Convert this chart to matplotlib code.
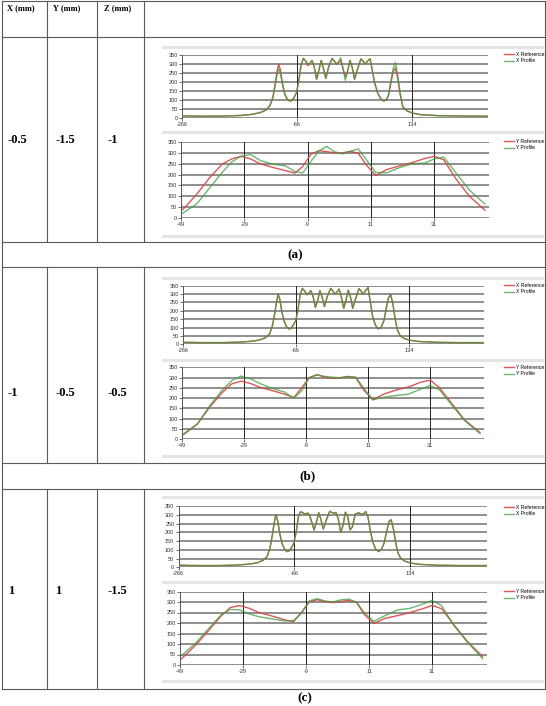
import matplotlib
matplotlib.use("Agg")
import matplotlib.pyplot as plt

W, H = 546, 706

# table contents
headers = ["X (mm)", "Y (mm)", "Z (mm)"]
x_mm = ["-0.5", "-1", "1"]
y_mm = ["-1.5", "-0.5", "1"]
z_mm = ["-1", "-0.5", "-1.5"]
captions = ["(a)", "(b)", "(c)"]

# X profile panel (sample positions along x)
xpos = [-266, -230, -195, -165, -145, -130, -120, -113, -108, -104,
        -101, -98, -95, -91, -87, -83, -79, -75, -71, -67,
        -63, -59, -55, -51, -47, -43, -40, -36, -32, -28,
        -24, -20, -16, -11, -5, -1, 3, 6, 10, 14,
        18, 22, 26, 30, 34, 39, 45, 49, 53, 57,
        61, 65, 69, 74, 79, 84, 89, 93, 97, 101,
        105, 109, 113, 118, 125, 134, 150, 180, 220, 266]

xref_a = [12, 10, 11, 14, 20, 30, 44, 70, 115, 190,
          255, 300, 268, 185, 130, 105, 94, 97, 115, 140,
          205, 295, 330, 315, 290, 305, 320, 282, 215, 265,
          320, 275, 220, 285, 330, 315, 300, 308, 320, 275,
          228, 262, 320, 280, 215, 270, 326, 315, 300, 318,
          328, 260, 195, 140, 110, 95, 98, 125, 190, 255,
          278, 220, 135, 60, 40, 28, 18, 13, 11, 10]
xpro_a = [12, 10, 11, 14, 20, 30, 44, 70, 112, 180,
          235, 275, 248, 180, 130, 105, 94, 97, 115, 140,
          205, 295, 332, 318, 300, 307, 320, 282, 215, 265,
          320, 275, 220, 285, 332, 315, 300, 312, 335, 270,
          210, 262, 320, 280, 215, 272, 330, 315, 300, 318,
          330, 262, 195, 140, 110, 95, 98, 130, 205, 275,
          310, 240, 145, 62, 40, 28, 18, 13, 11, 10]

xref_b = [12, 10, 10, 13, 18, 26, 40, 62, 110, 180,
          245, 298, 270, 190, 135, 105, 92, 95, 115, 140,
          200, 295, 333, 318, 296, 308, 320, 285, 220, 262,
          320, 280, 225, 285, 333, 318, 300, 312, 330, 280,
          215, 262, 322, 282, 215, 272, 333, 316, 300, 322,
          338, 255, 170, 115, 92, 100, 140, 210, 275, 296,
          240, 150, 85, 50, 35, 25, 17, 12, 10, 10]
xpro_b = [12, 10, 10, 13, 18, 26, 40, 62, 110, 182,
          248, 300, 272, 190, 135, 105, 92, 95, 115, 140,
          200, 296, 335, 318, 298, 308, 322, 285, 220, 262,
          322, 280, 225, 285, 335, 318, 300, 312, 331, 280,
          215, 262, 324, 282, 215, 272, 333, 316, 300, 322,
          340, 255, 170, 115, 92, 100, 140, 212, 278, 298,
          240, 150, 85, 50, 35, 25, 17, 12, 10, 10]

xref_c = [12, 10, 10, 13, 18, 26, 40, 62, 112, 185,
          250, 303, 270, 190, 135, 105, 90, 94, 112, 138,
          200, 290, 318, 312, 305, 310, 300, 260, 214, 258,
          313, 272, 220, 270, 320, 314, 310, 313, 275, 200,
          240, 315, 295, 215, 230, 305, 312, 305, 305, 319,
          290, 210, 150, 105, 90, 100, 140, 200, 260, 272,
          220, 140, 80, 50, 35, 25, 17, 12, 10, 10]
xpro_c = [12, 10, 10, 13, 18, 26, 40, 62, 112, 185,
          250, 303, 270, 190, 135, 105, 90, 94, 112, 138,
          200, 292, 320, 312, 305, 312, 302, 260, 214, 258,
          315, 272, 220, 270, 322, 314, 310, 315, 275, 200,
          240, 317, 295, 215, 230, 305, 314, 305, 305, 321,
          290, 210, 150, 105, 90, 100, 140, 200, 262, 275,
          220, 140, 80, 50, 35, 25, 17, 12, 10, 10]

# Y profile panel
ypos = [-48.5, -44, -40, -36, -33, -30, -27, -24, -20, -16,
        -13, -10.5, -8, -5.5, -3, -0.5, 2, 4.5, 7, 9.5,
        12.5, 16, 20, 24, 28, 31, 34, 38, 42, 47]

yref_a = [38, 110, 185, 248, 272, 284, 272, 250, 233, 218,
          207, 238, 293, 310, 306, 300, 300, 307, 298, 245,
          196, 223, 240, 255, 274, 284, 268, 177, 102, 36]
ypro_a = [22, 65, 138, 210, 258, 285, 292, 265, 248, 240,
          214, 208, 260, 308, 330, 305, 295, 307, 318, 270,
          210, 208, 232, 250, 253, 272, 280, 205, 130, 64]

yref_b = [26, 75, 158, 228, 270, 283, 272, 254, 237, 220,
          203, 250, 300, 315, 303, 297, 300, 306, 300, 240,
          193, 220, 240, 255, 278, 288, 250, 172, 95, 33]
ypro_b = [22, 75, 165, 240, 285, 308, 295, 272, 248, 230,
          200, 235, 300, 313, 306, 302, 300, 305, 303, 250,
          192, 205, 213, 220, 245, 262, 240, 165, 92, 28]

yref_c = [30, 95, 163, 233, 274, 283, 270, 250, 234, 216,
          206, 250, 300, 311, 302, 297, 302, 308, 298, 240,
          198, 222, 235, 250, 268, 284, 268, 190, 115, 40]
ypro_c = [45, 105, 172, 238, 265, 262, 243, 230, 220, 210,
          212, 245, 305, 316, 305, 300, 310, 314, 300, 248,
          208, 235, 262, 270, 290, 308, 282, 185, 112, 30]

RED = "#d64545"
GREEN = "#3f9e3f"

fig = plt.figure(figsize=(W / 100, H / 100), dpi=100)
bg = fig.add_axes([0, 0, 1, 1])
bg.set_xlim(0, W)
bg.set_ylim(H, 0)
bg.axis("off")

# table rules
lc = "#5a5a5a"
for yy in [1, 37, 242, 267, 463, 489, 689]:
    bg.plot([1.5, 544.5], [yy, yy], color=lc, lw=0.8)
for xx in [1.5, 544.5]:
    bg.plot([xx, xx], [1, 689], color=lc, lw=0.8)
for xx in [47, 97, 144]:
    for y0, y1 in [(1, 242), (267, 463), (489, 689)]:
        bg.plot([xx, xx], [y0, y1], color=lc, lw=0.8)

serif = "Liberation Serif"
for hx, h in zip([7, 53, 104], headers):
    bg.text(hx, 4, h, family=serif, weight="bold", fontsize=6, va="top")

row_mid = [140, 393, 591]
for i in range(3):
    bg.text(8, row_mid[i], x_mm[i], family=serif, weight="bold", fontsize=9, va="center")
    bg.text(55, row_mid[i], y_mm[i], family=serif, weight="bold", fontsize=9, va="center")
    bg.text(108, row_mid[i], z_mm[i], family=serif, weight="bold", fontsize=9, va="center")

cap_pos = [(295, 255), (307, 476), (305, 698)]
for (cx, cy), c in zip(cap_pos, captions):
    bg.text(cx, cy, c, family=serif, weight="bold", fontsize=9.5, ha="center", va="center")

# light separators of the chart images
sep_rows = [[47, 132, 236], [278, 360, 456], [497, 582, 681]]
for seps in sep_rows:
    for yy in seps:
        bg.plot([163, 542], [yy, yy], color="#e4e4e4", lw=2.2)


def px_axes(x0, y0, x1, y1):
    return fig.add_axes([x0 / W, 1 - y1 / H, (x1 - x0) / W, (y1 - y0) / H])


def style(ax, xlim, xticks):
    ax.set_xlim(*xlim)
    ax.set_ylim(0, 350)
    ax.set_yticks(range(0, 351, 50))
    ax.set_xticks(xticks)
    ax.set_xticklabels([str(t) for t in xticks])
    for t in range(0, 351, 50):
        ax.axhline(t, color="#707070", lw=1.1, zorder=1)
    for t in xticks[1:]:
        ax.axvline(t, color="#222222", lw=0.7, zorder=1)
    for s in ["top", "right", "bottom"]:
        ax.spines[s].set_visible(False)
    ax.spines["left"].set_color("#555555")
    ax.spines["left"].set_linewidth(0.7)
    ax.tick_params(labelsize=4, length=2, width=0.5, pad=1, colors="#333333")
    for lab in ax.get_xticklabels() + ax.get_yticklabels():
        lab.set_family("Liberation Sans")
    ax.set_facecolor("none")


def draw(ax, xs, ref, pro, names, leg_xy):
    ax.plot(xs, ref, color=RED, lw=1.0, alpha=0.9, label=names[0], zorder=3)
    ax.plot(xs, pro, color=GREEN, lw=1.0, alpha=0.75, label=names[1], zorder=3)
    ax.legend(loc="upper left", bbox_to_anchor=(leg_xy[0] / W, 1 - leg_xy[1] / H),
              bbox_transform=fig.transFigure, frameon=False,
              prop={"family": "Liberation Sans", "size": 3.6},
              handlelength=2.0, handletextpad=0.5, borderpad=0, borderaxespad=0,
              labelspacing=0.25)


top_boxes = [(182, 55, 488, 118), (183, 285.7, 484, 344.3), (178.5, 506.3, 486.7, 567.3)]
bot_boxes = [(181, 142, 489, 218), (182, 367.4, 484, 439.3), (180, 591.5, 486.7, 665)]
top_leg = [(504, 52), (504, 283), (504, 505)]
bot_leg = [(504, 139), (504, 365), (504, 589)]

xrefs = [xref_a, xref_b, xref_c]
xpros = [xpro_a, xpro_b, xpro_c]
yrefs = [yref_a, yref_b, yref_c]
ypros = [ypro_a, ypro_b, ypro_c]

for i in range(3):
    ax = px_axes(*top_boxes[i])
    style(ax, (-266, 266), [-266, -66, 134])
    draw(ax, xpos, xrefs[i], xpros[i], ["X Reference", "X Profile"], top_leg[i])

    ax = px_axes(*bot_boxes[i])
    style(ax, (-49, 48.3), [-49, -29, -9, 11, 31])
    draw(ax, ypos, yrefs[i], ypros[i], ["Y Reference", "Y Profile"], bot_leg[i])

fig.savefig("out.png", dpi=100)
